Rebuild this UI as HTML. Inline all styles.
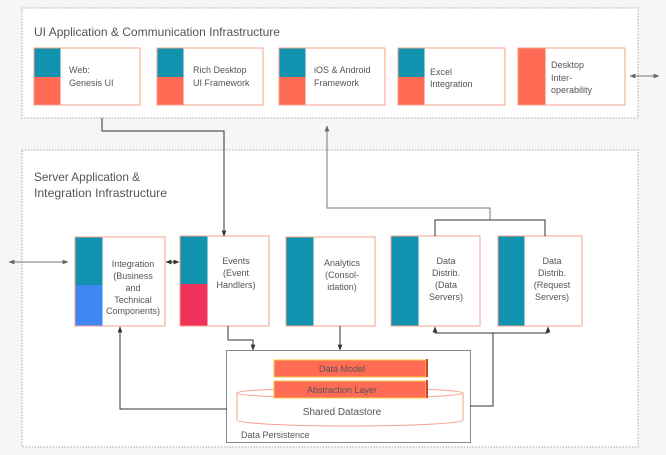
<!DOCTYPE html>
<html><head><meta charset="utf-8"><style>
html,body{margin:0;padding:0;background:#f6f6f6}
svg{display:block}
text{font-family:"Liberation Sans",sans-serif;fill:#555}
</style></head><body>
<svg width="666" height="455" viewBox="0 0 666 455" xmlns="http://www.w3.org/2000/svg">
<defs>
<marker id="a" viewBox="0 0 10 10" refX="9" refY="5" markerWidth="6" markerHeight="6" orient="auto-start-reverse"><path d="M0,1 L10,5 L0,9z" fill="#333"/></marker>
<marker id="g" viewBox="0 0 10 10" refX="9" refY="5" markerWidth="6" markerHeight="6" orient="auto-start-reverse"><path d="M0,1 L10,5 L0,9z" fill="#666"/></marker>
</defs>
<rect width="666" height="455" fill="#f6f6f6"/>
<rect x="22" y="8" width="616" height="110" fill="#fff" stroke="#aaa" stroke-dasharray="1.5,1.5"/>
<rect x="22" y="150" width="616" height="297" fill="#fff" stroke="#aaa" stroke-dasharray="1.5,1.5"/>
<text x="34" y="36" font-size="12" textLength="246" lengthAdjust="spacingAndGlyphs">UI Application &amp; Communication Infrastructure</text>
<text x="34" y="181" font-size="12" textLength="106" lengthAdjust="spacingAndGlyphs">Server Application &amp;</text>
<text x="34" y="197" font-size="12" textLength="133" lengthAdjust="spacingAndGlyphs">Integration Infrastructure</text>
<g font-size="9">
<rect x="34" y="48" width="106" height="57" fill="#fff" stroke="#f7a08c"/>
<rect x="34.5" y="48.5" width="26" height="29" fill="#1192ae"/><rect x="34.5" y="77" width="26" height="27.5" fill="#ff6b55"/>
<text x="69" y="73">Web:</text><text x="69" y="86">Genesis UI</text>
<rect x="157" y="48" width="106" height="57" fill="#fff" stroke="#f7a08c"/>
<rect x="157.5" y="48.5" width="26" height="29" fill="#1192ae"/><rect x="157.5" y="77" width="26" height="27.5" fill="#ff6b55"/>
<text x="193" y="73">Rich Desktop</text><text x="193" y="86">UI Framework</text>
<rect x="279" y="48" width="106" height="57" fill="#fff" stroke="#f7a08c"/>
<rect x="279.5" y="48.5" width="26" height="29" fill="#1192ae"/><rect x="279.5" y="77" width="26" height="27.5" fill="#ff6b55"/>
<text x="314" y="73">iOS &amp; Android</text><text x="314" y="86">Framework</text>
<rect x="398" y="48" width="107" height="57" fill="#fff" stroke="#f7a08c"/>
<rect x="398.5" y="48.5" width="26" height="29" fill="#1192ae"/><rect x="398.5" y="77" width="26" height="27.5" fill="#ff6b55"/>
<text x="430" y="75">Excel</text><text x="430" y="87">Integration</text>
<rect x="518" y="48" width="107" height="57" fill="#fff" stroke="#f7a08c"/>
<rect x="518.5" y="48.5" width="27" height="56" fill="#ff6b55"/>
<text x="551" y="68">Desktop</text><text x="551" y="81">Inter-</text><text x="551" y="93">operability</text>
<rect x="75" y="237" width="90" height="89" fill="#fff" stroke="#f7a08c"/>
<rect x="75.5" y="237.5" width="27" height="48" fill="#1192ae"/><rect x="75.5" y="285" width="27" height="40.5" fill="#3f86f0"/>
<g text-anchor="middle"><text x="133" y="267">Integration</text><text x="133" y="279">(Business</text><text x="133" y="291">and</text><text x="133" y="303">Technical</text><text x="133" y="314">Components)</text></g>
<rect x="180" y="236" width="89" height="90" fill="#fff" stroke="#f7a08c"/>
<rect x="180.5" y="236.5" width="27" height="48" fill="#1192ae"/><rect x="180.5" y="284" width="27" height="41.5" fill="#f0325a"/>
<g text-anchor="middle"><text x="236" y="264">Events</text><text x="236" y="276">(Event</text><text x="236" y="288">Handlers)</text></g>
<rect x="286" y="237" width="89" height="89" fill="#fff" stroke="#f7a08c"/>
<rect x="286.5" y="237.5" width="27" height="88" fill="#1192ae"/>
<g text-anchor="middle"><text x="342" y="266">Analytics</text><text x="342" y="278">(Consol-</text><text x="342" y="290">idation)</text></g>
<rect x="391" y="236" width="89" height="90" fill="#fff" stroke="#f7a08c"/>
<rect x="391.5" y="236.5" width="27" height="89" fill="#1192ae"/>
<g text-anchor="middle"><text x="446" y="264">Data</text><text x="446" y="276">Distrib.</text><text x="446" y="288">(Data</text><text x="446" y="300">Servers)</text></g>
<rect x="498" y="236" width="84" height="90" fill="#fff" stroke="#f7a08c"/>
<rect x="498.5" y="236.5" width="26" height="89" fill="#1192ae"/>
<g text-anchor="middle"><text x="552" y="264">Data</text><text x="552" y="276">Distrib.</text><text x="552" y="288">(Request</text><text x="552" y="300">Servers)</text></g>
<rect x="226.5" y="350.5" width="244" height="92" fill="#fff" stroke="#888"/>
<path d="M237,393 L237,420 A113,6 0 0 0 463,420 L463,393" fill="#fff" stroke="#f7a08c"/>
<ellipse cx="350" cy="393" rx="113" ry="5" fill="#fff" stroke="#f7a08c"/>
<rect x="274" y="360" width="152" height="17" fill="#ff6b55" stroke="#f5c842"/>
<rect x="426" y="359" width="2" height="18" fill="#c84a30"/>
<rect x="274" y="381" width="152" height="17" fill="#ff6b55" stroke="#f5c842"/>
<rect x="426" y="380" width="2" height="18" fill="#c84a30"/>
<g text-anchor="middle"><text x="342" y="372">Data Model</text><text x="342" y="393">Abstraction Layer</text><text x="342" y="415" font-size="10">Shared Datastore</text></g>
<text x="241" y="438">Data Persistence</text>
</g>
<g fill="none" stroke="#333" stroke-width="1">
<path d="M102,118 V131 H224 V236" marker-end="url(#a)"/>
<path d="M228,326 V340 H253 V350" marker-end="url(#a)"/>
<path d="M340,326 V350" marker-end="url(#a)"/>
<path d="M227,409 H120 V327" marker-end="url(#a)"/>
<path d="M470,406 H493 V333"/>
<path d="M435,333 H548"/>
<path d="M435,333 V327" marker-end="url(#a)"/>
<path d="M548,333 V327" marker-end="url(#a)"/>
<path d="M435,236 V220 H545 V236"/>
<path d="M166,262 H179" marker-start="url(#a)" marker-end="url(#a)"/>
</g>
<g fill="none" stroke="#777" stroke-width="1">
<path d="M490,220 V208 H327 V126" marker-end="url(#g)"/>
<path d="M630,76 H659" marker-start="url(#g)" marker-end="url(#g)"/>
<path d="M9,262 H68" marker-start="url(#g)" marker-end="url(#g)"/>
</g>
</svg>
</body></html>
